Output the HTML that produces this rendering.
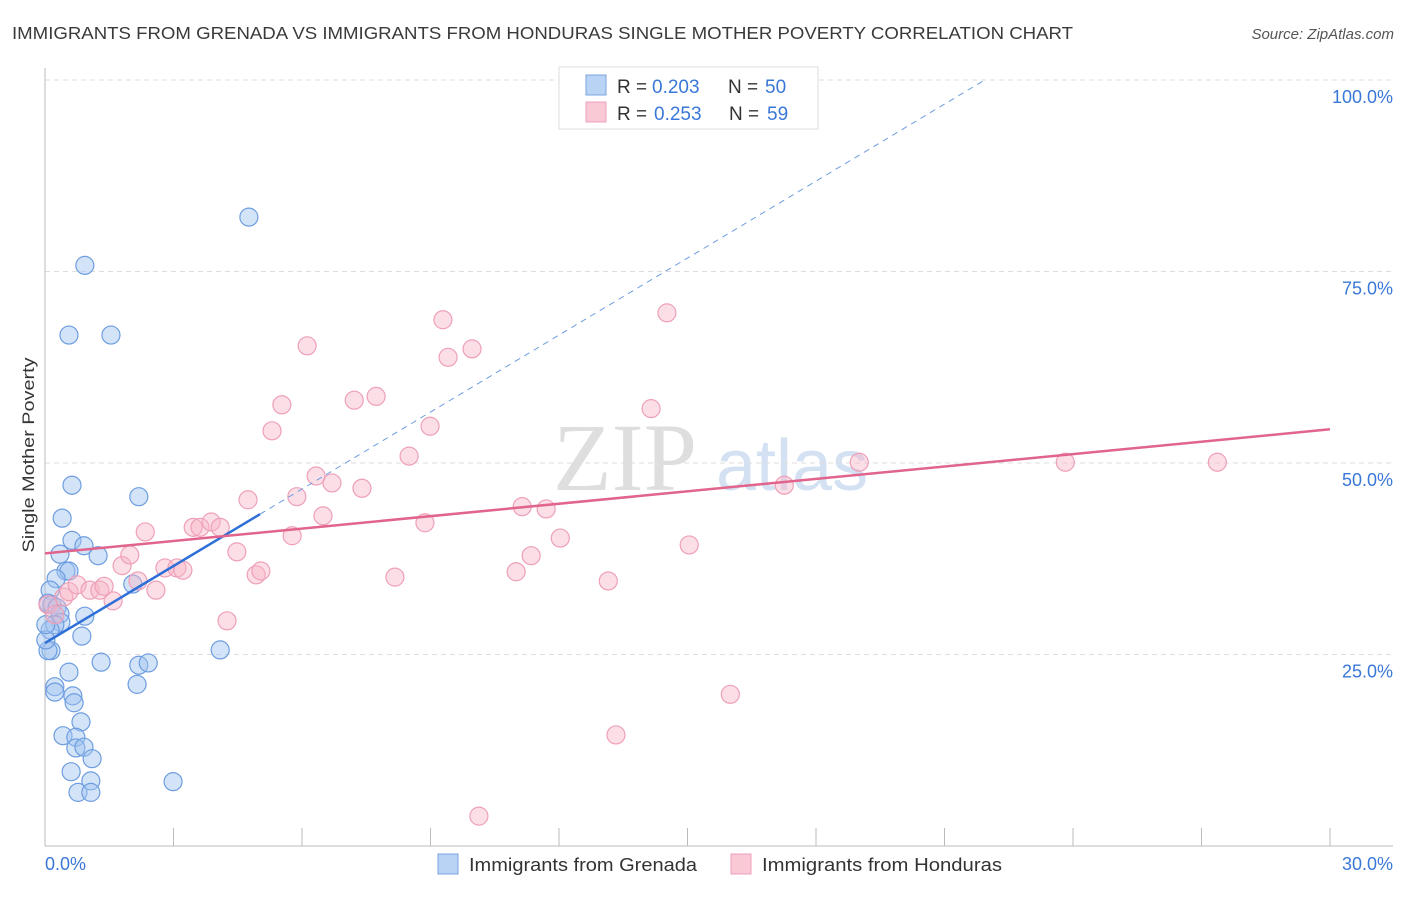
<!DOCTYPE html>
<html><head><meta charset="utf-8"><style>
body{margin:0;background:#fff;font-family:"Liberation Sans",sans-serif;}
svg text{font-family:"Liberation Sans",sans-serif;}
</style></head><body>
<svg id="chart" width="1406" height="892" xmlns="http://www.w3.org/2000/svg">
<text x="12" y="39" font-size="17.5" fill="#3a3a3a" textLength="1061" lengthAdjust="spacingAndGlyphs">IMMIGRANTS FROM GRENADA VS IMMIGRANTS FROM HONDURAS SINGLE MOTHER POVERTY CORRELATION CHART</text>
<text x="1394" y="39" font-size="15" fill="#555" font-style="italic" text-anchor="end">Source: ZipAtlas.com</text>
<g>
<text x="553" y="490" font-size="96" fill="#dedede" style="font-family:'Liberation Serif',serif">ZIP</text>
<text x="716" y="490" font-size="72" fill="#d3e1f3">atlas</text>
</g>
<g id="grid"></g>
<g id="axes"></g>
<g id="marks"></g>
<text transform="translate(34,455) rotate(-90)" font-size="17" fill="#333" text-anchor="middle" textLength="195" lengthAdjust="spacingAndGlyphs">Single Mother Poverty</text>
<g>
<rect x="559" y="67" width="259" height="62" fill="#fff" stroke="#ddd"/>
<rect x="586" y="75" width="20" height="20" fill="#b9d3f5" stroke="#7aa6e0"/>
<text x="617" y="93" font-size="19" fill="#333">R =</text>
<text x="652" y="93" font-size="19" fill="#3a78d8">0.203</text>
<text x="728" y="93" font-size="19" fill="#333">N =</text>
<text x="765" y="93" font-size="19" fill="#3a78d8">50</text>
<rect x="586" y="102" width="20" height="20" fill="#f9c9d6" stroke="#eea0b8"/>
<text x="617" y="120" font-size="19" fill="#333">R =</text>
<text x="654" y="120" font-size="19" fill="#3a78d8">0.253</text>
<text x="729" y="120" font-size="19" fill="#333">N =</text>
<text x="767" y="120" font-size="19" fill="#3a78d8">59</text>
</g>
<g>
<rect x="438" y="854" width="20" height="20" fill="#b9d3f5" stroke="#7aa6e0"/>
<text x="469" y="871" font-size="18" fill="#333" textLength="228" lengthAdjust="spacingAndGlyphs">Immigrants from Grenada</text>
<rect x="731" y="854" width="20" height="20" fill="#f9c9d6" stroke="#eea0b8"/>
<text x="762" y="871" font-size="18" fill="#333" textLength="240" lengthAdjust="spacingAndGlyphs">Immigrants from Honduras</text>
</g>
</svg>
<script>
const yTicks=[25,50,75,100];
const yTickLabels=["25.0%","50.0%","75.0%","100.0%"];
const xTickCount=10;
const xLabels=["0.0%","30.0%"];
const grenadaX=[4.76,0.93,0.56,1.54,0.63,2.19,0.40,0.63,0.91,0.35,1.24,0.49,0.56,0.26,0.12,0.07,0.16,0.28,0.35,0.37,0.23,0.12,0.93,0.86,2.05,0.14,0.07,4.09,1.31,2.19,2.41,2.15,0.56,0.23,0.23,0.65,0.68,0.84,0.42,0.72,0.72,0.91,1.10,0.61,1.07,0.77,1.07,2.99,0.02,0.02];
const grenadaY=[82.1,75.8,66.7,66.7,47.1,45.6,42.8,39.9,39.2,38.1,37.9,35.9,35.9,34.9,33.4,31.7,31.5,31.1,30.3,29.2,28.9,28.2,30.0,27.4,34.2,25.5,25.5,25.6,24.0,23.6,23.9,21.1,22.7,20.8,20.1,19.6,18.7,16.2,14.4,14.2,12.8,12.9,11.4,9.7,8.5,7.0,7.0,8.4,26.9,28.9];
const hondurasX=[10.13,13.33,16.0,4.25,1.59,0.44,0.56,0.75,1.05,1.28,1.38,2.17,2.59,2.80,3.08,3.22,1.80,1.98,2.34,3.46,3.62,3.88,4.09,4.48,4.93,5.04,5.77,4.74,5.88,6.33,6.70,6.49,7.40,8.17,8.87,8.50,8.99,5.30,5.53,6.12,7.22,7.73,9.29,9.41,9.97,11.0,11.35,11.14,11.70,12.03,13.15,14.15,14.52,15.04,17.26,19.01,23.82,27.37,0.07,0.23];
const hondurasY=[3.9,14.5,19.8,29.4,32.0,32.5,33.2,34.1,33.4,33.4,33.9,34.6,33.4,36.3,36.3,36.0,36.6,38.0,41.0,41.6,41.6,42.3,41.6,38.4,35.4,35.9,40.5,45.2,45.6,48.3,47.4,43.1,46.7,35.1,42.2,50.9,54.8,54.2,57.6,65.3,58.2,58.7,68.7,63.8,64.9,35.8,37.9,44.3,44.0,40.2,34.6,57.1,69.6,39.3,47.1,50.1,50.1,50.1,31.5,30.2];
const grenadaTrend=[26.5,3.35];
const hondurasTrend=[38.2,0.54];
const NS="http://www.w3.org/2000/svg";
const X0=45,X1=1330,Y0=846,Y100=80;
const sx=v=>X0+v/30*(X1-X0);
const sy=v=>Y0-v/100*(Y0-Y100);
function mk(tag,attrs,parent){const e=document.createElementNS(NS,tag);for(const k in attrs)e.setAttribute(k,attrs[k]);document.getElementById(parent).appendChild(e);return e;}
yTicks.forEach((t,i)=>{
 const g=mk('line',{x1:X0,x2:1393,y1:sy(t),y2:sy(t),stroke:'#ddd','stroke-dasharray':'5,4'},'grid');
 
 
 const l=mk('text',{x:1393,y:sy(t)+23,'font-size':18,fill:'#3a78d8','text-anchor':'end'},'axes');
 l.textContent=yTickLabels[i];
 
 
});
const ax=mk('line',{x1:X0,x2:X0,y1:68,y2:Y0,stroke:'#bbb'},'axes');


const bx=mk('line',{x1:X0,x2:1393,y1:Y0,y2:Y0,stroke:'#bbb'},'axes');


for(let i=1;i<=xTickCount;i++){
 const t=mk('line',{x1:sx(i*3),x2:sx(i*3),y1:828,y2:Y0,stroke:'#bbb'},'axes');
 
 
}
const xl0=mk('text',{x:45,y:870,'font-size':18,fill:'#3a78d8'},'axes');xl0.textContent=xLabels[0];


const xl1=mk('text',{x:1393,y:870,'font-size':18,fill:'#3a78d8','text-anchor':'end'},'axes');xl1.textContent=xLabels[1];


grenadaX.forEach((x,i)=>{
 const c=mk('circle',{cx:sx(x),cy:sy(grenadaY[i]),r:9,fill:'rgba(160,196,240,0.45)',stroke:'#6d9de0','stroke-width':1.2},'marks');
 
 
});
hondurasX.forEach((x,i)=>{
 const c=mk('circle',{cx:sx(x),cy:sy(hondurasY[i]),r:9,fill:'rgba(246,182,200,0.45)',stroke:'#eea0b8','stroke-width':1.2},'marks');
 
 
});
const xEnd=(100-grenadaTrend[0])/grenadaTrend[1];
const d=mk('line',{x1:sx(5.02),y1:sy(grenadaTrend[0]+grenadaTrend[1]*5.02),x2:sx(xEnd),y2:sy(100),stroke:'#6d9de0','stroke-width':1,'stroke-dasharray':'6,5'},'marks');


const b=mk('line',{x1:sx(0),y1:sy(grenadaTrend[0]),x2:sx(5.02),y2:sy(grenadaTrend[0]+grenadaTrend[1]*5.02),stroke:'#2e6fd8','stroke-width':2.5},'marks');


const p=mk('line',{x1:sx(0),y1:sy(hondurasTrend[0]),x2:sx(30),y2:sy(hondurasTrend[0]+hondurasTrend[1]*30),stroke:'#e0648c','stroke-width':2.5},'marks');


</script>
</body></html>
